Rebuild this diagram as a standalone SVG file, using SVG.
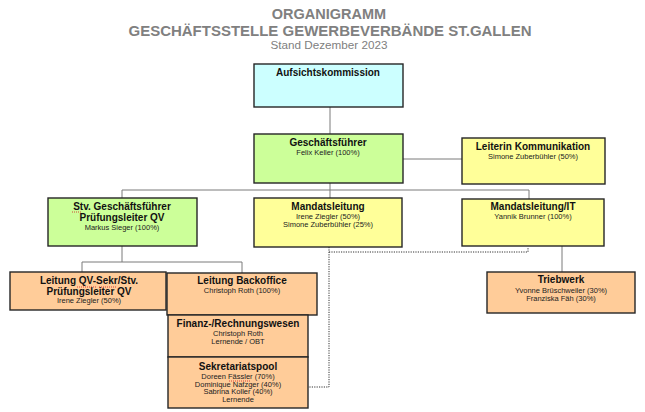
<svg xmlns="http://www.w3.org/2000/svg" width="645" height="412" viewBox="0 0 645 412">
<style>
.box{stroke:#262626;stroke-width:1.4}
.cyan{fill:#CCFFFF}.green{fill:#CCFF99}.yellow{fill:#FFFF99}.orange{fill:#FFCC99}
.t{font-family:"Liberation Sans",Arial,sans-serif;font-weight:bold;font-size:10px;fill:#111;text-anchor:middle}
.s{font-family:"Liberation Sans",Arial,sans-serif;font-size:7.5px;fill:#222;text-anchor:middle}
.h{font-family:"Liberation Sans",Arial,sans-serif;font-weight:bold;font-size:14.5px;fill:#808080;text-anchor:middle}
.sq{stroke:#d02020;stroke-width:0.8;fill:none;stroke-dasharray:1 1}
.ln{stroke:#7a7a7a;stroke-width:1;fill:none}
.dt{stroke:#333;stroke-width:1;fill:none;stroke-dasharray:1.2 1.2}
</style>
<rect width="645" height="412" fill="#fff"/>
<g id="title">
<text class="h" x="329" y="19">ORGANIGRAMM</text>
<text class="h" x="330" y="35.5" textLength="403" lengthAdjust="spacingAndGlyphs">GESCHÄFTSSTELLE GEWERBEVERBÄNDE ST.GALLEN</text>
<text x="329" y="49" style="font-family:'Liberation Sans',Arial,sans-serif;font-size:11px;fill:#808080;text-anchor:middle" textLength="117" lengthAdjust="spacingAndGlyphs">Stand Dezember 2023</text>
</g>
<g id="connectors">
<path class="ln" d="M330,107V198M122,190H529V199M122,190V198M403,159H462M122,246V262M82,262H242M82,262V272M242,262V273M562,246V272"/>
<path class="dt" d="M329,247V387H308M329,252H528V247"/>
</g>
<g id="aufsicht">
<rect class="box cyan" x="254" y="64" width="149" height="43"/>
<text class="t" x="328" y="76">Aufsichtskommission</text>
</g>
<g id="gf">
<rect class="box green" x="254" y="134" width="149" height="49"/>
<text class="t" x="328" y="146">Geschäftsführer</text>
<text class="s" x="328" y="155">Felix Keller (100%)</text>
</g>
<g id="kommunikation">
<rect class="box yellow" x="462" y="138" width="143" height="46"/>
<text class="t" x="533" y="150">Leiterin Kommunikation</text>
<text class="s" x="533" y="159">Simone Zuberbühler (50%)</text>
</g>
<g id="stv">
<rect class="box green" x="48" y="198" width="149" height="48"/>
<text class="t" x="122" y="210">Stv. Geschäftsführer</text>
<text class="t" x="122" y="221">Prüfungsleiter QV</text>
<text class="s" x="122" y="230">Markus Sieger (100%)</text>
<path class="sq" d="M72,212H81"/>
</g>
<g id="mandatsleitung">
<rect class="box yellow" x="254" y="198" width="148" height="49"/>
<text class="t" x="328" y="210">Mandatsleitung</text>
<text class="s" x="328" y="219">Irene  Ziegler (50%)</text>
<text class="s" x="328" y="227">Simone Zuberbühler (25%)</text>
</g>
<g id="mandatsleitung-it">
<rect class="box yellow" x="462" y="199" width="142" height="47"/>
<text class="t" x="533" y="210">Mandatsleitung/IT</text>
<text class="s" x="533" y="219">Yannik Brunner (100%)</text>
</g>
<g id="leitung-qv">
<rect class="box orange" x="10" y="272" width="156" height="38"/>
<text class="t" x="89" y="284">Leitung QV-Sekr/Stv.</text>
<text class="t" x="89" y="295">Prüfungsleiter QV</text>
<text class="s" x="89" y="303">Irene  Ziegler (50%)</text>
<path class="sq" d="M77,287H96M99,287H117"/>
</g>
<g id="backoffice">
<rect class="box orange" x="167" y="273" width="150" height="42"/>
<text class="t" x="242" y="284">Leitung Backoffice</text>
<text class="s" x="242" y="293">Christoph Roth (100%)</text>
</g>
<g id="finanz">
<rect class="box orange" x="168" y="315" width="140" height="42"/>
<text class="t" x="238" y="327">Finanz-/Rechnungswesen</text>
<text class="s" x="238" y="336">Christoph Roth</text>
<text class="s" x="238" y="344">Lernende / OBT</text>
</g>
<g id="sekretariat">
<rect class="box orange" x="168" y="357" width="140" height="51"/>
<text class="t" x="238" y="370">Sekretariatspool</text>
<text class="s" x="238" y="379">Doreen Fässler (70%)</text>
<text class="s" x="238" y="386.5">Dominique Nafzger (40%)</text>
<text class="s" x="238" y="394">Sabrina Koller (40%)</text>
<text class="s" x="238" y="402">Lernende</text>
<path class="sq" d="M229,381H250"/>
</g>
<g id="triebwerk">
<rect class="box orange" x="487" y="272" width="148" height="41"/>
<text class="t" x="561" y="283">Triebwerk</text>
<text class="s" x="561" y="293">Yvonne Brüschweiler (30%)</text>
<text class="s" x="561" y="301">Franziska Fäh (30%)</text>
</g>
</svg>
